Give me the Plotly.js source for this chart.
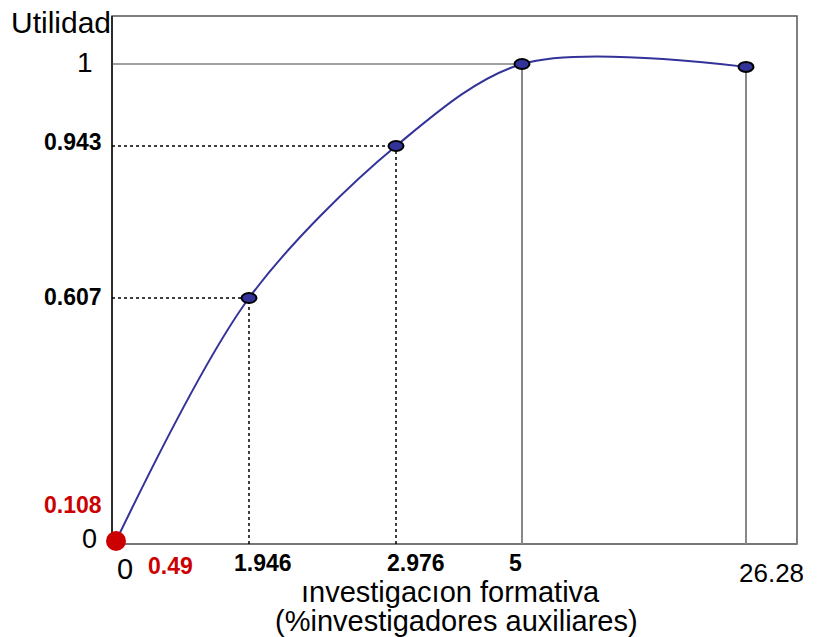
<!DOCTYPE html>
<html><head><meta charset="utf-8">
<script src="https://cdn.plot.ly/plotly-3.0.1.min.js"></script>
<style>html,body{margin:0;padding:0;background:#fff}</style>
</head><body><div id="chart" style="width:818px;height:637px"></div>
<script>
// ---- data ----
const investigacion = [0, 1.946, 2.976, 5, 26.28];
const utilidad = [0, 0.607, 0.943, 1, 0.998];
const xTickLabels = ['0', '1.946', '2.976', '5', '26.28'];
const yTickValues = [0, 0.607, 0.943, 1];
const yTickLabels = ['0', '0.607', '0.943', '1'];
const umbralX = 0.49;
const umbralY = 0.108;

// ---- hand-drawn (non-linear) axis scales, piecewise linear ----
const xScaleDomain = [0, 1.946, 2.976, 5, 26.28];
const xScaleRange = [4, 137, 284, 410, 634];
const yScaleDomain = [0, 0.607, 0.943, 1];
const yScaleRange = [3, 246, 398, 480];
function piecewise(dom, rng, v) {
  let i = 0;
  while (i < dom.length - 2 && v > dom[i + 1]) i++;
  const t = (v - dom[i]) / (dom[i + 1] - dom[i]);
  return rng[i] + t * (rng[i + 1] - rng[i]);
}
const xs = v => piecewise(xScaleDomain, xScaleRange, v);
const ys = v => piecewise(yScaleDomain, yScaleRange, v);

const FONT = 'Arial, "Liberation Sans", sans-serif';
const NAVY = '#333399';
const RED = '#cc0000';

const traces = [
  {
    x: investigacion.map(xs), y: utilidad.map(ys),
    mode: 'lines', type: 'scatter', hoverinfo: 'skip',
    line: {color: NAVY, width: 2, shape: 'spline', smoothing: 0.9}
  },
  {
    x: [xs(investigacion[0])], y: [ys(utilidad[0])],
    mode: 'markers', type: 'scatter', cliponaxis: false, hoverinfo: 'skip',
    marker: {size: 20, color: RED}
  }
];

const shapes = [];
// frame
shapes.push({type: 'rect', xref: 'paper', yref: 'paper', x0: 0, x1: 1, y0: 0, y1: 1,
  line: {color: '#555555', width: 1.5}, layer: 'below'});
shapes.push({type: 'line', xref: 'paper', yref: 'paper', x0: 0, x1: 1, y0: 0, y1: 0,
  line: {color: '#777777', width: 2}, layer: 'below'});
shapes.push({type: 'line', xref: 'paper', yref: 'paper', x0: 0, x1: 0, y0: 0, y1: 1,
  line: {color: '#111111', width: 1.5}, layer: 'below'});
// guide lines
investigacion.forEach((v, i) => {
  if (i === 0) return;
  const u = utilidad[i];
  const solid = v >= 5;
  shapes.push({type: 'line', xref: 'x', yref: 'paper', x0: xs(v), x1: xs(v), y0: 0,
    y1: (ys(u) / 528),
    line: {color: solid ? '#888888' : '#000000', width: solid ? 2 : 1.5, dash: solid ? 'solid' : 'dot'},
    layer: 'below'});
  if (!solid) {
    shapes.push({type: 'line', xref: 'paper', yref: 'y', x0: 0, x1: xs(v) / 685, y0: ys(u), y1: ys(u),
      line: {color: '#000000', width: 1.5, dash: 'dot'}, layer: 'below'});
  }
});
// line at utility 1
shapes.push({type: 'line', xref: 'x', yref: 'y', x0: 0, x1: xs(investigacion[3]), y0: ys(1), y1: ys(1),
  line: {color: '#444444', width: 1.2}, layer: 'below'});
// ellipse markers
investigacion.forEach((v, i) => {
  if (i === 0) return;
  shapes.push({type: 'circle', xref: 'x', yref: 'y',
    xsizemode: 'pixel', xanchor: xs(v), x0: -7.5, x1: 7.5,
    ysizemode: 'pixel', yanchor: ys(utilidad[i]), y0: -5, y1: 5,
    fillcolor: NAVY, line: {color: '#000000', width: 2}, layer: 'above'});
});

const annotations = [];
annotations.push({text: 'Utilidad', xref: 'paper', yref: 'paper', x: 0, y: 1, xanchor: 'right', yanchor: 'middle',
  xshift: 1, yshift: -6, showarrow: false, font: {family: FONT, size: 30, color: '#000'}});
// y tick labels
const yShifts = {'0': [-13, 2, 27, false], '0.607': [-8, 1, 23, true], '0.943': [-8, 4, 23, true], '1': [-17, 2, 28, false]};
yTickValues.forEach((v, i) => {
  const s = yShifts[yTickLabels[i]];
  annotations.push({text: s[3] ? '<b>' + yTickLabels[i] + '</b>' : yTickLabels[i],
    xref: 'paper', yref: 'y', x: 0, y: ys(v), xanchor: 'right', yanchor: 'middle',
    xshift: s[0], yshift: s[1], showarrow: false, font: {family: FONT, size: s[2], color: '#000'}});
});
// x tick labels
const xShifts = [[9, -25, 29, false], [14, -19, 23, true], [20, -19, 23, true], [-7, -19, 23, true], [25, -29, 26, false]];
investigacion.forEach((v, i) => {
  const s = xShifts[i];
  annotations.push({text: s[3] ? '<b>' + xTickLabels[i] + '</b>' : xTickLabels[i],
    xref: 'x', yref: 'paper', x: xs(v), y: 0, xanchor: 'center', yanchor: 'middle',
    xshift: s[0], yshift: s[1], showarrow: false, font: {family: FONT, size: s[2], color: '#000'}});
});
// red threshold labels
annotations.push({text: '<b>' + umbralX + '</b>', xref: 'x', yref: 'paper', x: xs(umbralX), y: 0,
  xanchor: 'left', yanchor: 'middle', xshift: -3, yshift: -22, showarrow: false,
  font: {family: FONT, size: 23, color: RED}});
annotations.push({text: '<b>' + umbralY + '</b>', xref: 'paper', yref: 'y', x: 0, y: ys(umbralY),
  xanchor: 'right', yanchor: 'middle', xshift: -8, yshift: -7, showarrow: false,
  font: {family: FONT, size: 23, color: RED}});
// axis title (two lines)
annotations.push({text: 'ınvestigacıon formativa', xref: 'paper', yref: 'paper', x: (450 - 112) / 685, y: 0,
  xanchor: 'center', yanchor: 'middle', yshift: -48, showarrow: false, font: {family: FONT, size: 29, color: '#000'}});
annotations.push({text: '(%investigadores auxiliares)', xref: 'paper', yref: 'paper', x: (456 - 112) / 685, y: 0,
  xanchor: 'center', yanchor: 'middle', yshift: -77, showarrow: false, font: {family: FONT, size: 29, color: '#000'}});

const layout = {
  width: 818, height: 637,
  margin: {l: 112, r: 21, t: 16, b: 93, pad: 0},
  paper_bgcolor: '#ffffff', plot_bgcolor: '#ffffff',
  showlegend: false,
  xaxis: {range: [0, 685], visible: false, fixedrange: true},
  yaxis: {range: [0, 528], visible: false, fixedrange: true},
  shapes: shapes, annotations: annotations,
  font: {family: FONT}
};
Plotly.newPlot('chart', traces, layout, {displayModeBar: false, staticPlot: true});
</script></body></html>
